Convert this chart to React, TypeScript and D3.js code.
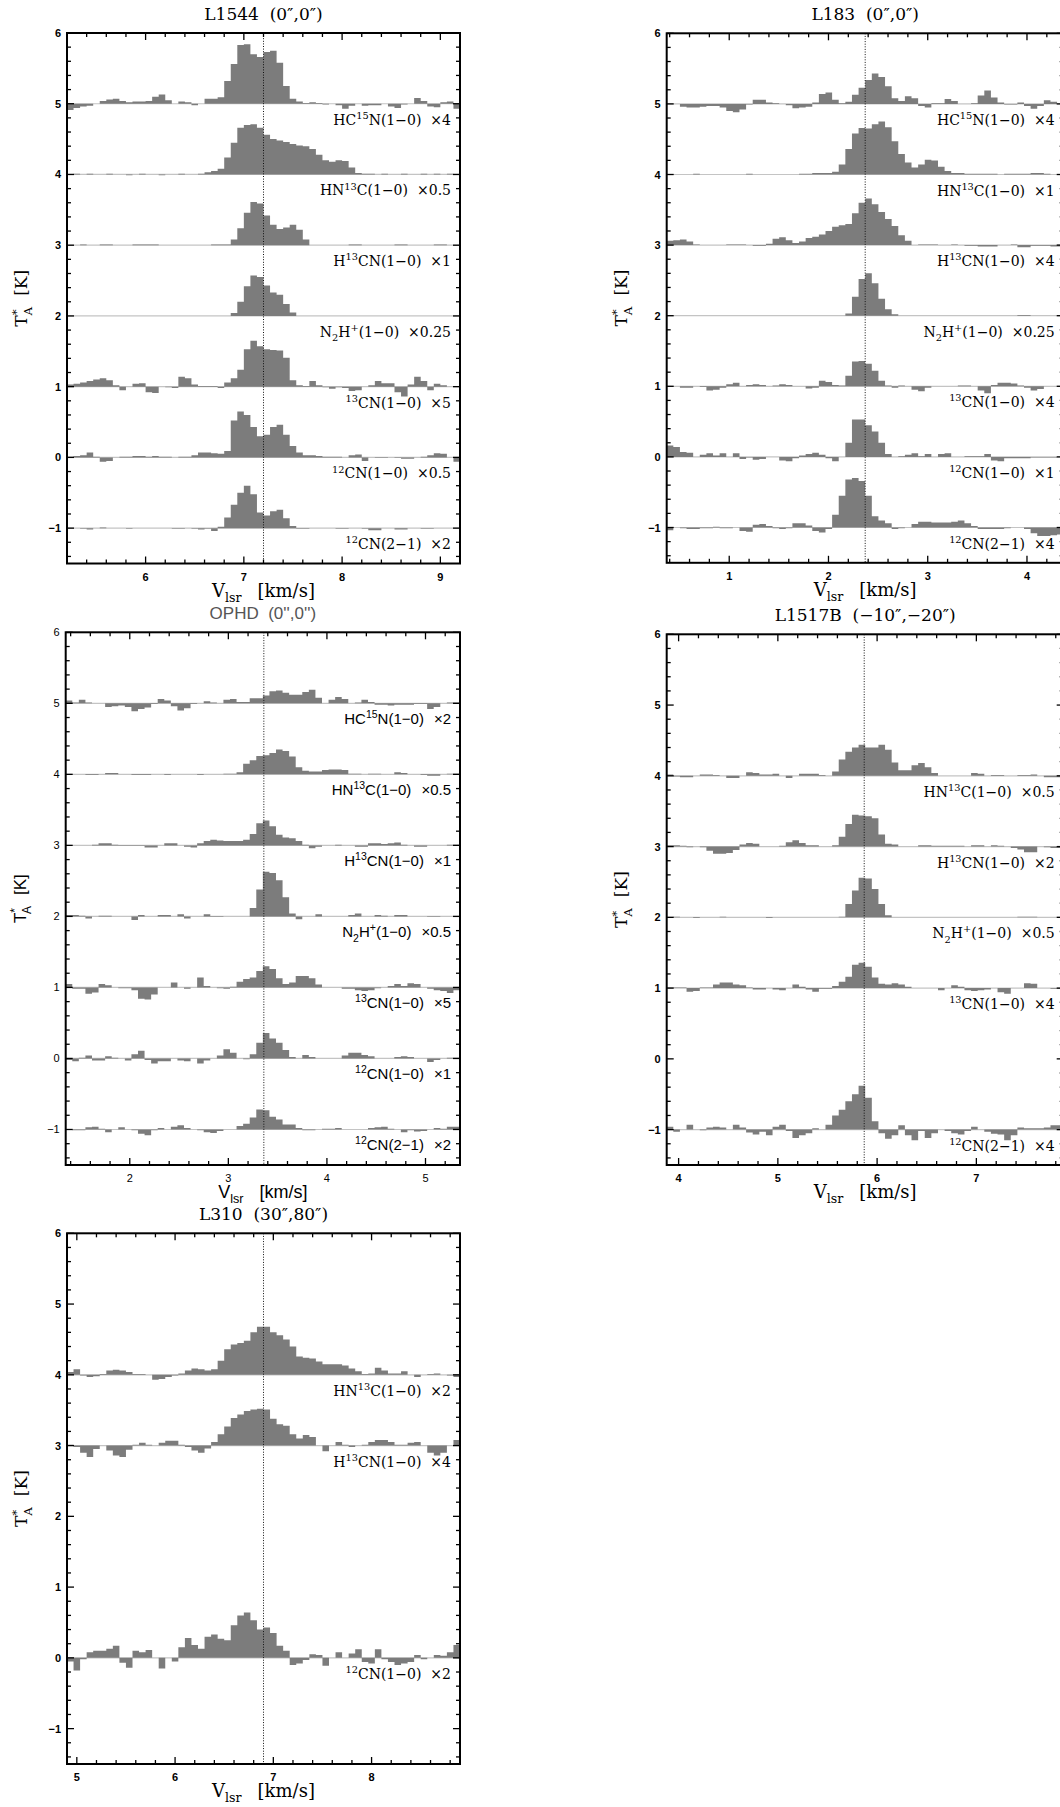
import React from "react";
import * as d3 from "d3";

// Every spectrum is 60 channels across a 4 km/s window, values are the plotted
// T*A (already multiplied by the factor in its label) in units of 0.01 K.
const NCHAN = 60;
const WINDOW = 4;

// ---- L1544 (0",0"), window starts at 5.2 km/s ----
const l1544HC15N = [-9, -6, -4, -3, 0, 4, 6, 7, 4, 2, 3, 3, 4, 10, 13, 5, 0, 3, 2, -2, 0, 7, 7, 9, 32, 56, 83, 84, 70, 66, 73, 75, 58, 25, 7, 3, 1, 2, 1, -1, 0, -2, -7, -3, 0, -3, -2, -2, 0, -4, -6, -1, 0, 8, 4, -4, -5, 2, 3, -7];
const l1544HN13C = [0, 1, 0, 1, 0, 0, 1, 0, 0, -1, 0, 1, 0, 0, -1, 0, 0, 1, 0, 0, 1, 3, 5, 8, 24, 45, 66, 70, 71, 66, 56, 50, 48, 46, 43, 41, 40, 36, 28, 20, 18, 20, 19, 10, 2, 1, 1, 0, 1, 0, 0, 1, 0, 0, 1, 0, 1, 0, 1, 0];
const l1544H13CN = [0, 0, 1, 0, 0, 1, 1, 0, 0, 0, 1, 1, 1, 1, 0, 0, 0, 0, 0, 0, 0, 0, 1, 1, 1, 8, 24, 46, 61, 59, 42, 29, 23, 25, 29, 22, 8, 0, 0, 0, 0, 0, 0, 1, 1, 0, 0, 0, 0, 0, 1, 1, 0, 0, 0, 0, 1, 1, 0, 0];
const l1544N2H = [0, 0, 0, 0, 0, 0, 0, 0, 0, 0, 0, 0, 0, 0, 0, 0, 0, 0, 0, 0, 0, 0, 0, 0, 0, 4, 20, 42, 57, 55, 43, 33, 30, 17, 5, 0, 0, 0, 0, 0, 0, 0, 0, 0, 0, 0, 0, 0, 0, 0, 0, 0, 0, 0, 0, 0, 0, 0, 0, 0];
const l1544CN13 = [3, 4, 6, 8, 10, 12, 9, 2, -5, 0, 4, 5, -8, -9, 0, -1, -2, 14, 12, 3, 1, 1, 1, -2, 6, 12, 24, 53, 65, 57, 53, 52, 51, 41, 9, 2, 1, 8, 2, -1, -3, -1, -2, -6, -5, 0, 2, 8, 5, 5, -8, -14, 3, 14, 8, -5, 4, 2, 0, 1];
const l1544CN10 = [1, 2, 3, 7, 1, -6, -5, 0, 1, 1, 2, 2, 1, 2, 1, 1, 0, 1, 1, 3, 7, 7, 6, 5, 9, 52, 65, 60, 43, 30, 32, 43, 46, 32, 16, 7, 3, 3, 2, 1, 1, 1, 0, 3, 4, -5, 0, -1, -1, 0, -1, -2, -2, 0, 1, 3, 6, 5, 0, -6];
const l1544CN21 = [0, 0, -1, -2, 0, 1, 0, 0, 0, -1, 0, 0, 0, 0, 0, 0, -1, -1, 0, -1, -2, -1, -4, 2, 15, 33, 50, 60, 48, 22, 18, 24, 26, 14, 3, -1, -1, 0, 0, 0, 0, -1, -1, 0, 0, -1, -3, -3, 0, 0, -2, -2, 0, 0, -1, -1, 0, 0, 0, 0];

// ---- L183 (0",0"), window starts at 0.37 km/s ----
const l183HC15N = [0, 0, -4, -5, -5, -4, -3, -3, -5, -10, -12, -8, -1, 6, 6, 2, 1, 0, -2, -6, -5, -4, 2, 14, 16, 6, 1, 3, 13, 23, 34, 43, 38, 25, 8, 4, 11, 8, -3, -5, 1, 1, 7, 4, 0, 0, 1, 12, 19, 9, 2, -1, -1, 2, -3, -7, -3, 5, 3, 0];
const l183HN13C = [0, 0, 0, 0, 1, 0, 0, 0, 0, 0, 0, 0, 1, 0, 0, 0, 0, 0, 0, 0, 1, 1, 2, 2, 2, 4, 14, 36, 58, 66, 65, 71, 75, 67, 47, 29, 17, 10, 14, 21, 20, 11, 5, 2, 2, 1, 1, 1, 1, 1, 0, 1, 1, 1, 1, 2, 2, 1, 0, 0];
const l183H13CN = [6, 7, 8, 5, 1, 0, 0, 0, 0, 1, 1, 1, 0, -1, -1, 2, 9, 11, 7, 3, 5, 10, 12, 15, 20, 26, 28, 30, 45, 60, 66, 58, 47, 37, 27, 14, 6, 0, 1, 1, 1, 0, 0, 1, 0, -1, -1, -2, -2, -2, 0, 0, 1, -3, -3, -1, -1, -1, -2, -2];
const l183N2H = [0, 0, 0, 0, 0, 0, 0, 0, 0, 0, 0, 0, 0, 0, 0, 0, 0, 0, 0, 0, 0, 0, 0, 0, 0, 0, 0, 3, 27, 52, 60, 46, 24, 9, 2, 0, 0, 0, 0, 0, 0, 0, 0, 0, 0, 0, 0, 0, 0, 0, 0, 0, 0, 1, 1, 0, 0, 0, 0, 0];
const l183CN13 = [0, 0, -2, -2, 0, -1, -6, -5, -2, 3, 5, 0, 2, 3, 2, 0, 1, 3, 2, 0, 0, -3, -2, 8, 6, 2, 1, 15, 35, 36, 32, 22, 8, 1, -2, 1, 0, -5, -7, -2, 0, 0, 0, 0, 1, 1, 0, -6, -10, 2, 5, 5, 4, 1, -2, -6, -4, 0, 0, 0];
const l183CN10 = [16, 14, 7, 6, 0, 3, 5, 2, 5, 0, 5, -3, -1, -4, -3, 0, 0, -5, -6, -2, 2, 4, 6, 3, -2, -6, 0, 20, 53, 53, 45, 36, 20, 4, 0, 1, 3, 5, 1, 4, 0, 4, 5, 0, 0, 1, 1, 1, 4, -5, -6, -2, -2, -2, -2, -1, -1, -1, -1, 0];
const l183CN21 = [-4, 0, -1, -2, -2, -1, -1, 1, -1, -1, 0, -5, -6, 4, 5, 2, -1, -2, -1, 6, 6, 3, -5, -7, -2, 18, 45, 68, 70, 66, 45, 16, 10, 6, -2, -1, 0, 5, 8, 8, 7, 7, 7, 8, 10, 6, 2, -2, -2, -2, -2, -1, 0, 0, -2, -8, -12, -12, -11, -10];

// ---- OPHD (0",0"), window starts at 1.35 km/s ----
const ophdHC15N = [4, 1, 5, 1, 0, 0, -5, -4, -3, -5, -11, -8, -6, -1, 6, 4, -4, -10, -7, -1, 0, 3, 1, 0, 5, 6, 2, 2, 7, 7, 11, 17, 18, 15, 12, 12, 16, 19, 8, 0, 5, 9, 6, 0, 1, 5, 2, -2, -2, -3, -2, -2, -2, -1, -1, -8, -5, 0, 1, 1];
const ophdHN13C = [0, 0, 0, -1, -1, 0, 2, 2, 0, 0, -1, -1, -1, 0, 0, -1, 0, 0, 0, 0, -1, 0, 0, 0, 1, 1, 3, 15, 20, 26, 27, 30, 35, 33, 25, 10, 5, 4, 4, 6, 7, 7, 6, 1, 1, 0, 1, 1, 0, 0, 3, 2, 0, 0, -1, -2, -2, 0, 1, 1];
const ophdH13CN = [-1, 0, 0, 0, 1, 3, 3, 1, -1, -1, -1, -1, -3, -3, 0, 3, 3, 0, -2, -3, 3, 6, 8, 7, 6, 6, 6, 8, 16, 31, 35, 27, 15, 11, 10, 6, 1, -4, -2, 0, 0, 1, 0, 0, -2, -2, 3, 3, 2, 3, 4, 1, 0, -2, -2, 0, 0, 0, 1, 1];
const ophdN2H = [2, 2, 1, -3, 0, 1, 1, 0, 0, 0, -5, 2, 0, 0, 2, 2, 0, 3, -3, 0, 0, 3, -1, -1, 0, 0, 0, 0, 12, 38, 63, 61, 51, 27, 4, -4, 0, 0, 3, 0, 0, 0, 0, 2, 4, 0, 0, 2, 1, 0, 2, 2, 0, 0, 0, -1, -1, 0, 0, 0];
const ophdCN13 = [5, -2, -2, -9, -7, 5, 3, 0, -1, -1, -4, -16, -17, -10, 0, 0, 7, 0, -2, 0, 14, 2, 0, -1, -2, 1, 8, 12, 14, 23, 30, 26, 13, 5, 7, 16, 16, 13, 4, 0, 0, 0, -2, -2, -4, -5, -4, -1, 0, 2, 5, 2, 6, 5, 0, -2, -4, -5, -8, -4];
const ophdCN10 = [-2, -4, 1, 4, -3, -3, 3, 1, 0, -3, 6, 11, -2, -7, -4, -4, 0, -3, -4, 0, -7, -3, 0, 4, 13, 8, 0, -1, 6, 22, 36, 28, 22, 12, 2, 0, 5, 2, 0, 0, 0, 0, 4, 8, 8, 5, 3, 0, 0, 0, 2, 3, 2, 0, 0, -5, -2, 0, 1, 1];
const ophdCN21 = [0, -1, -1, 3, 4, 1, -4, 0, 3, 0, -1, -6, -8, -1, 2, 0, 4, 6, 2, 0, -1, -4, -5, -2, 0, 0, 5, 8, 17, 28, 27, 18, 14, 7, 7, 2, -1, -1, 0, 1, 1, 2, 0, 0, 0, 0, 2, 3, 4, 1, 0, -4, -1, -3, -2, 0, 2, 1, 4, 4];

// ---- L1517B (-10",-20"), window starts at 3.88 km/s ----
const l1517HN13C = [2, -1, -2, -2, 0, 2, 2, 1, 0, -3, -3, 0, 5, 4, 2, 2, 3, 0, -3, 0, 3, 3, 3, 1, 0, 6, 23, 34, 40, 44, 40, 40, 44, 37, 19, 8, 8, 15, 18, 12, 4, 0, 0, 0, 0, 0, 4, 3, 0, 1, 1, 0, 0, 1, 1, 2, 0, -2, -2, -2];
const l1517H13CN = [2, 2, 1, -1, 0, -1, -6, -10, -10, -9, -5, 3, 5, 4, 0, 0, 0, 1, 6, 9, 5, 2, 2, 0, 0, 2, 14, 32, 45, 44, 43, 40, 17, 4, 3, 0, 0, 0, 2, 2, 1, 1, 1, 1, 1, 0, 2, 2, 0, 2, 1, 0, -2, -4, -8, -8, 0, -1, -2, -2];
const l1517N2H = [0, 1, 0, 0, -1, 0, 0, 0, 1, 0, 0, 0, 0, 0, 0, -1, 0, 0, 0, 0, 0, 0, 0, 0, 0, 0, 1, 19, 38, 56, 55, 40, 19, 3, 0, 0, 0, 0, 0, 0, 0, 0, 0, 0, 0, 0, 0, 0, 0, 0, 0, 0, 0, 1, 1, 1, 0, 0, 0, 0];
const l1517CN13 = [1, 1, 1, -5, -4, 1, 1, 5, 8, 8, 5, 4, 1, -2, -2, 0, -2, -3, 0, 5, 2, -2, -5, -1, -1, 3, 9, 16, 33, 36, 30, 15, 6, 5, 7, 5, 2, 0, 0, 0, 0, -3, 0, 4, 2, -3, -4, -3, -2, 0, -6, -8, 0, 0, 7, 6, 0, 0, -1, -1];
const l1517CN21 = [4, -3, 0, 7, 0, -1, 3, 4, 3, 0, 7, 3, -4, -7, -3, -8, 4, 7, -2, -12, -8, -5, 2, 0, 7, 20, 28, 40, 50, 62, 45, 12, -5, -13, -8, 6, -8, -15, -2, -12, -5, 0, -2, -5, -7, -2, 4, 0, -3, -6, -7, -15, -8, 3, 2, 2, 2, 3, 6, 6];

// ---- L310 (30",80"), window starts at 4.9 km/s ----
const l310HN13C = [4, 8, -1, -3, -2, 1, 6, 7, 6, 4, 1, 1, 0, -7, -6, -3, -1, 2, 6, 9, 8, 6, 8, 20, 36, 43, 45, 48, 60, 68, 68, 60, 56, 50, 40, 26, 24, 23, 19, 15, 15, 15, 13, 9, 5, 1, 2, 10, 6, 2, 2, 5, 0, -3, 0, 1, 2, 0, -1, -3];
const l310H13CN = [1, -2, -10, -16, -5, 0, -7, -14, -16, -6, 1, 4, 1, 0, 4, 7, 7, 1, -2, -7, -10, -4, 5, 16, 27, 39, 44, 49, 51, 52, 51, 38, 30, 28, 16, 10, 15, 12, 0, -8, 0, 5, 1, -2, 0, 1, 5, 8, 8, 5, 1, 1, 4, 5, 0, -10, -14, -10, 0, 8];
const l310CN10 = [-5, -18, -2, 8, 10, 10, 13, 17, -7, -14, 10, 8, 11, 0, -15, 0, -5, 15, 28, 18, 13, 30, 33, 27, 25, 46, 60, 64, 53, 40, 43, 35, 17, 10, -10, -8, -3, 5, 4, -11, 0, 8, 0, 6, 12, -6, -8, 12, -2, -6, -10, -8, -6, 4, -2, 0, 4, 3, 8, 18];

type Part = { t: string; s?: "sup" | "sub"; dx?: number };

const HC15N: Part[] = [{ t: "HC" }, { t: "15", s: "sup" }, { t: "N(1−0)" }];
const HN13C: Part[] = [{ t: "HN" }, { t: "13", s: "sup" }, { t: "C(1−0)" }];
const H13CN: Part[] = [{ t: "H" }, { t: "13", s: "sup" }, { t: "CN(1−0)" }];
const N2H: Part[] = [{ t: "N" }, { t: "2", s: "sub" }, { t: "H" }, { t: "+", s: "sup" }, { t: "(1−0)" }];
const CN13: Part[] = [{ t: "13", s: "sup" }, { t: "CN(1−0)" }];
const CN10: Part[] = [{ t: "12", s: "sup" }, { t: "CN(1−0)" }];
const CN21: Part[] = [{ t: "12", s: "sup" }, { t: "CN(2−1)" }];

interface Spectrum {
  mol: Part[];
  factor: string;
  offset: number;
  values: number[];
}

interface Panel {
  title: string;
  v0: number;
  vsys: number;
  sans: boolean;
  spectra: Spectrum[];
}

const panels: Panel[] = [
  {
    title: "L1544  (0″,0″)", v0: 5.2, vsys: 7.2, sans: false,
    spectra: [
      { mol: HC15N, factor: "4", offset: 5, values: l1544HC15N },
      { mol: HN13C, factor: "0.5", offset: 4, values: l1544HN13C },
      { mol: H13CN, factor: "1", offset: 3, values: l1544H13CN },
      { mol: N2H, factor: "0.25", offset: 2, values: l1544N2H },
      { mol: CN13, factor: "5", offset: 1, values: l1544CN13 },
      { mol: CN10, factor: "0.5", offset: 0, values: l1544CN10 },
      { mol: CN21, factor: "2", offset: -1, values: l1544CN21 },
    ],
  },
  {
    title: "L183  (0″,0″)", v0: 0.37, vsys: 2.37, sans: false,
    spectra: [
      { mol: HC15N, factor: "4", offset: 5, values: l183HC15N },
      { mol: HN13C, factor: "1", offset: 4, values: l183HN13C },
      { mol: H13CN, factor: "4", offset: 3, values: l183H13CN },
      { mol: N2H, factor: "0.25", offset: 2, values: l183N2H },
      { mol: CN13, factor: "4", offset: 1, values: l183CN13 },
      { mol: CN10, factor: "1", offset: 0, values: l183CN10 },
      { mol: CN21, factor: "4", offset: -1, values: l183CN21 },
    ],
  },
  {
    title: "OPHD  (0'',0'')", v0: 1.35, vsys: 3.36, sans: true,
    spectra: [
      { mol: HC15N, factor: "2", offset: 5, values: ophdHC15N },
      { mol: HN13C, factor: "0.5", offset: 4, values: ophdHN13C },
      { mol: H13CN, factor: "1", offset: 3, values: ophdH13CN },
      { mol: N2H, factor: "0.5", offset: 2, values: ophdN2H },
      { mol: CN13, factor: "5", offset: 1, values: ophdCN13 },
      { mol: CN10, factor: "1", offset: 0, values: ophdCN10 },
      { mol: CN21, factor: "2", offset: -1, values: ophdCN21 },
    ],
  },
  {
    title: "L1517B  (−10″,−20″)", v0: 3.88, vsys: 5.87, sans: false,
    spectra: [
      { mol: HN13C, factor: "0.5", offset: 4, values: l1517HN13C },
      { mol: H13CN, factor: "2", offset: 3, values: l1517H13CN },
      { mol: N2H, factor: "0.5", offset: 2, values: l1517N2H },
      { mol: CN13, factor: "4", offset: 1, values: l1517CN13 },
      { mol: CN21, factor: "4", offset: -1, values: l1517CN21 },
    ],
  },
  {
    title: "L310  (30″,80″)", v0: 4.9, vsys: 6.9, sans: false,
    spectra: [
      { mol: HN13C, factor: "2", offset: 4, values: l310HN13C },
      { mol: H13CN, factor: "4", offset: 3, values: l310H13CN },
      { mol: CN10, factor: "2", offset: 0, values: l310CN10 },
    ],
  },
];

// page position of each panel's frame
const frames = [
  { left: 67, top: 33, width: 393, height: 530.5 },
  { left: 666.7, top: 33.3, width: 397, height: 529.5 },
  { left: 65.7, top: 632.3, width: 394.3, height: 532.7 },
  { left: 666.7, top: 634.3, width: 397, height: 530.7 },
  { left: 67, top: 1233.3, width: 393, height: 530.7 },
];

const SERIF = "'DejaVu Serif', serif";
const SANS = "'Liberation Sans', Arial, sans-serif";
const FILL = "#7c7c7c";

function Rich(props: {
  parts: Part[];
  x: number;
  y: number;
  size: number;
  family: string;
  anchor?: string;
  weight?: string;
  fill?: string;
  transform?: string;
}) {
  const { parts, x, y, size, family, anchor = "start", weight, fill = "#000", transform } = props;
  let shift = 0;
  return (
    <text
      x={x}
      y={y}
      fontSize={size}
      fontFamily={family}
      textAnchor={anchor}
      fontWeight={weight}
      fill={fill}
      transform={transform}
      style={{ whiteSpace: "pre" }}
    >
      {parts.map((p, i) => {
        const target = p.s === "sup" ? -0.42 * size : p.s === "sub" ? 0.3 * size : 0;
        const dy = target - shift;
        shift = target;
        return (
          <tspan key={i} dy={dy} dx={p.dx || 0} fontSize={p.s ? size * 0.7 : size}>
            {p.t}
          </tspan>
        );
      })}
    </text>
  );
}

function SpectraPanel({ panel, frame, id }: { panel: Panel; frame: typeof frames[0]; id: number }) {
  const v1 = panel.v0 + WINDOW;
  const x = d3.scaleLinear().domain([panel.v0, v1]).range([frame.left, frame.left + frame.width]);
  const y = d3.scaleLinear().domain([-1.5, 6]).range([frame.top + frame.height, frame.top]);
  const dv = WINDOW / NCHAN;
  const bottom = frame.top + frame.height;
  const right = frame.left + frame.width;
  const family = panel.sans ? SANS : SERIF;
  const tickFont = SANS;
  const tickWeight = panel.sans ? "normal" : "bold";

  const xMajor = d3.range(Math.ceil(panel.v0), v1 + 1e-9, 1);
  const xMinor = d3
    .range(Math.ceil(panel.v0 * 5 - 1e-9), Math.floor(v1 * 5 + 1e-9) + 1)
    .map((k) => k / 5)
    .filter((v) => Math.abs(v - Math.round(v)) > 1e-6);
  const yMajor = d3.range(-1, 7, 1);
  const yMinor = d3
    .range(-7, 31)
    .map((k) => k / 5)
    .filter((v) => Math.abs(v - Math.round(v)) > 1e-6);

  const fmt = (v: number) => (v < 0 ? "−" + Math.abs(v) : String(v));

  const area = (s: Spectrum) => {
    const pts: [number, number][] = s.values.map((t, i) => [panel.v0 + i * dv, s.offset + t / 100]);
    pts.push([v1, s.offset + s.values[s.values.length - 1] / 100]);
    return d3
      .area<[number, number]>()
      .curve(d3.curveStepAfter)
      .x((d) => x(d[0]))
      .y0(y(s.offset))
      .y1((d) => y(d[1]))(pts) as string;
  };

  const MAJ = 7;
  const MIN = 4;
  const titleX = frame.left + frame.width / 2;

  return (
    <g>
      <defs>
        <clipPath id={`clip${id}`}>
          <rect x={frame.left} y={frame.top} width={frame.width} height={frame.height} />
        </clipPath>
      </defs>

      <g clipPath={`url(#clip${id})`}>
        {panel.spectra.map((s, i) => (
          <line key={"b" + i} x1={frame.left} x2={right} y1={y(s.offset)} y2={y(s.offset)} stroke="#c4c4c4" strokeWidth={1.2} />
        ))}
        {panel.spectra.map((s, i) => (
          <path key={"s" + i} d={area(s)} fill={FILL} stroke="none" />
        ))}
        <line
          x1={x(panel.vsys)}
          x2={x(panel.vsys)}
          y1={frame.top}
          y2={bottom}
          stroke="#111"
          strokeWidth={1}
          strokeDasharray="1 1.6"
        />
      </g>

      {/* ticks on all four sides, pointing inward */}
      <g stroke="#000" strokeWidth={1.3}>
        {xMajor.map((v) => (
          <g key={"xm" + v}>
            <line x1={x(v)} x2={x(v)} y1={bottom} y2={bottom - MAJ} />
            <line x1={x(v)} x2={x(v)} y1={frame.top} y2={frame.top + MAJ} />
          </g>
        ))}
        {xMinor.map((v) => (
          <g key={"xn" + v}>
            <line x1={x(v)} x2={x(v)} y1={bottom} y2={bottom - MIN} />
            <line x1={x(v)} x2={x(v)} y1={frame.top} y2={frame.top + MIN} />
          </g>
        ))}
        {yMajor.map((v) => (
          <g key={"ym" + v}>
            <line x1={frame.left} x2={frame.left + MAJ} y1={y(v)} y2={y(v)} />
            <line x1={right} x2={right - MAJ} y1={y(v)} y2={y(v)} />
          </g>
        ))}
        {yMinor.map((v) => (
          <g key={"yn" + v}>
            <line x1={frame.left} x2={frame.left + MIN} y1={y(v)} y2={y(v)} />
            <line x1={right} x2={right - MIN} y1={y(v)} y2={y(v)} />
          </g>
        ))}
      </g>

      <rect x={frame.left} y={frame.top} width={frame.width} height={frame.height} fill="none" stroke="#000" strokeWidth={2} />

      {/* tick labels */}
      {xMajor.map((v) => (
        <text key={"xl" + v} x={x(v)} y={bottom + 17} fontSize={11} fontFamily={tickFont} fontWeight={tickWeight} textAnchor="middle">
          {fmt(v)}
        </text>
      ))}
      {yMajor.map((v) => (
        <text key={"yl" + v} x={frame.left - 6} y={y(v) + 4} fontSize={11} fontFamily={tickFont} fontWeight={tickWeight} textAnchor="end">
          {fmt(v)}
        </text>
      ))}

      {/* line labels */}
      {panel.spectra.map((s, i) => (
        <Rich
          key={"l" + i}
          parts={[...s.mol, { t: "×" + s.factor, dx: panel.sans ? 10 : 9 }]}
          x={right - 9}
          y={y(s.offset) + 21}
          size={panel.sans ? 15 : 14}
          family={family}
          anchor="end"
        />
      ))}

      {/* title and axis titles */}
      <text
        x={titleX}
        y={frame.top - 13}
        fontSize={17}
        fontFamily={family}
        textAnchor="middle"
        fill={panel.sans ? "#555" : "#000"}
        style={{ whiteSpace: "pre" }}
      >
        {panel.title}
      </text>
      <Rich
        parts={[{ t: "V" }, { t: "lsr", s: "sub" }, { t: "[km/s]", dx: 16 }]}
        x={titleX}
        y={bottom + 33}
        size={18}
        family={family}
        anchor="middle"
      />
      <Rich
        parts={[{ t: "T" }, { t: "*", s: "sup" }, { t: "A", s: "sub", dx: -6 }, { t: "[K]", dx: 11 }]}
        x={0}
        y={0}
        size={17}
        family={family}
        anchor="middle"
        transform={`translate(${frame.left - 40},${frame.top + frame.height / 2}) rotate(-90)`}
      />
    </g>
  );
}

export default function App() {
  return (
    <svg
      width={1060}
      height={1807}
      viewBox="0 0 1060 1807"
      style={{ position: "absolute", left: 0, top: 0, background: "#fff" }}
    >
      <rect x={0} y={0} width={1060} height={1807} fill="#fff" />
      {panels.map((p, i) => (
        <SpectraPanel key={p.title} panel={p} frame={frames[i]} id={i} />
      ))}
    </svg>
  );
}
